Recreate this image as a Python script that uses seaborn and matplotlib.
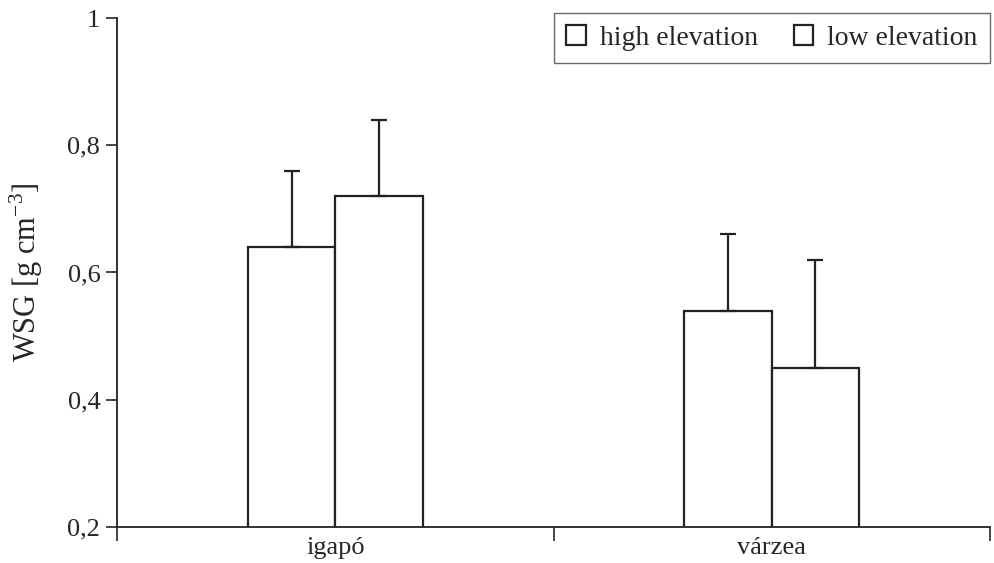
import pandas as pd
import matplotlib
matplotlib.use("Agg")
import matplotlib.pyplot as plt
import matplotlib.ticker as mticker
from matplotlib.patches import Patch
import seaborn as sns

# values
habitats = ["igapó", "várzea"]
elevations = ["high elevation", "low elevation"]
wsg_high = [0.64, 0.54]
wsg_low = [0.72, 0.45]
err_high = [0.12, 0.12]
err_low = [0.12, 0.17]

df = pd.DataFrame({
    "habitat": habitats * 2,
    "elevation": [elevations[0]] * 2 + [elevations[1]] * 2,
    "wsg": wsg_high + wsg_low,
    "err": err_high + err_low,
})

sns.set_theme(style="ticks")
plt.rcParams["font.family"] = ["Liberation Serif", "DejaVu Serif"]
plt.rcParams["mathtext.fontset"] = "custom"
plt.rcParams["mathtext.rm"] = "Liberation Serif"

fig = plt.figure(figsize=(9.95, 5.63), dpi=100)
ax = fig.add_axes([0.1176, 0.064, 0.8774, 0.904])

sns.barplot(data=df, x="habitat", y="wsg", hue="elevation", order=habitats,
            hue_order=elevations, ax=ax, palette=["white", "white"],
            edgecolor="#222222", linewidth=1.6, width=0.4, errorbar=None,
            legend=False)

# one-sided error bars on top of each bar
for bar, (_, row) in zip(ax.patches, df.iterrows()):
    x = bar.get_x() + bar.get_width() / 2
    ax.errorbar(x, row["wsg"], yerr=[[0], [row["err"]]], fmt="none",
                ecolor="#222222", elinewidth=1.6, capsize=6, capthick=1.6)

ax.set_ylim(0.2, 1.0)
ax.set_xlim(-0.5, 1.5)
ax.set_yticks([0.2, 0.4, 0.6, 0.8, 1.0])
ax.yaxis.set_major_formatter(mticker.FuncFormatter(
    lambda v, p: "1" if abs(v - 1) < 1e-9 else f"{v:.1f}".replace(".", ",")))

ax.set_xticks([0, 1])
ax.set_xticklabels(habitats)
ax.set_xticks([-0.5, 0.5, 1.5], minor=True)
ax.tick_params(axis="x", which="major", length=0, labelsize=19, pad=7)
ax.tick_params(axis="x", which="minor", length=10, width=1.2, direction="out")
ax.tick_params(axis="y", length=8, width=1.2, direction="out", labelsize=19, pad=4)

ax.set_xlabel("")
ax.set_ylabel("WSG [g cm$^{\\mathrm{-3}}$]", fontsize=22, labelpad=16)

sns.despine(ax=ax)
for s in ["left", "bottom"]:
    ax.spines[s].set_linewidth(1.3)
    ax.spines[s].set_color("#222222")

handles = [Patch(facecolor="white", edgecolor="#222222", linewidth=1.6, label=lab)
           for lab in elevations]
leg = ax.legend(handles=handles, loc="upper right", ncol=2, fontsize=20,
                frameon=True, fancybox=False, edgecolor="#444444",
                handlelength=0.7, handleheight=0.7, handletextpad=0.5,
                columnspacing=1.3, borderaxespad=0.0, borderpad=0.45,
                bbox_to_anchor=(1.0, 1.01))
leg.get_frame().set_linewidth(1.0)

fig.savefig("out.png", dpi=100)
